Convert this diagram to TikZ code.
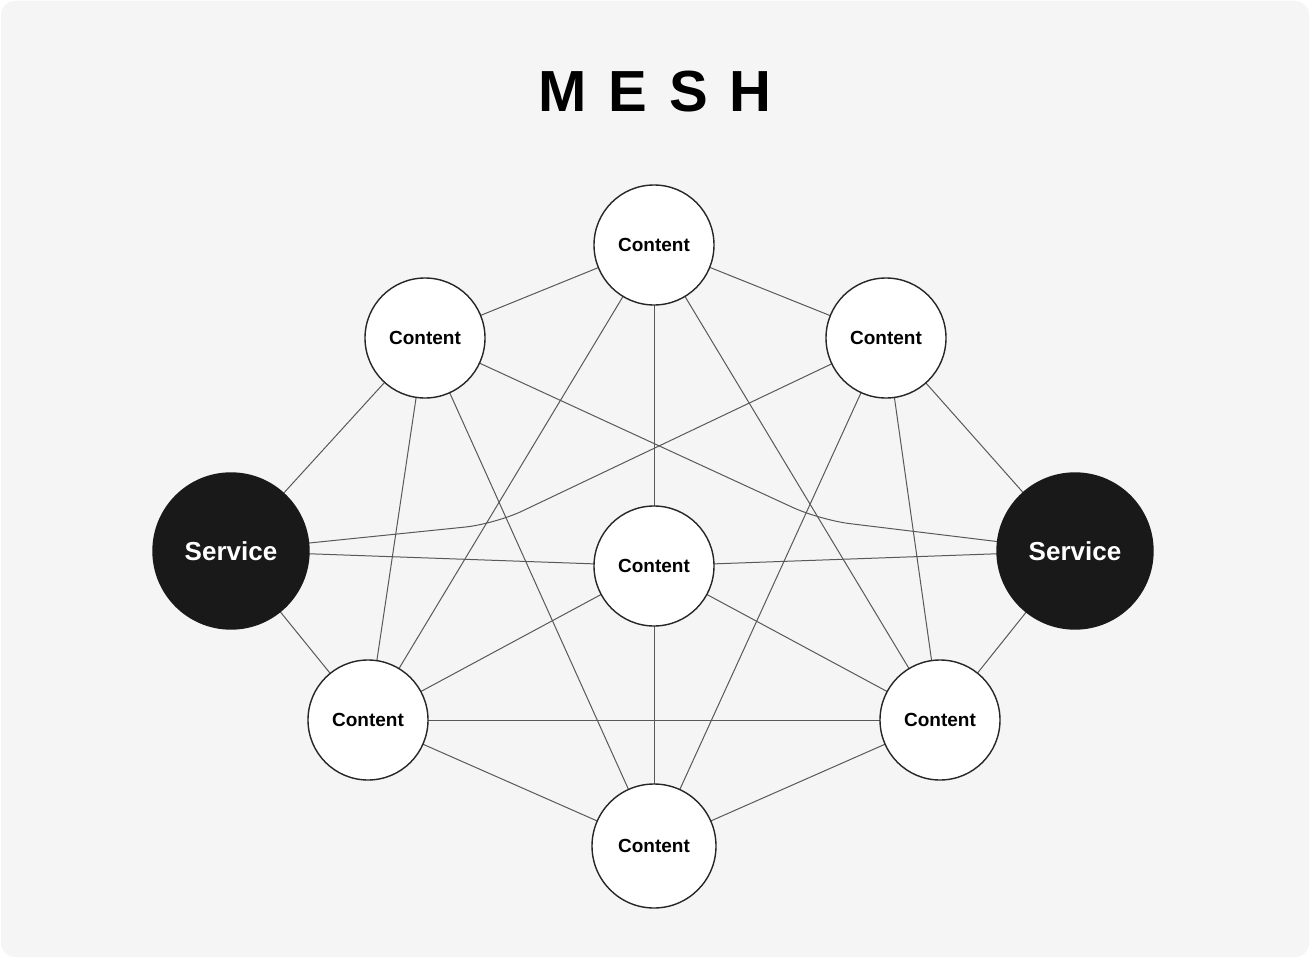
\documentclass[tikz,border=0pt]{standalone}
\usepackage{fontspec}
\setmainfont{Liberation Sans}
\begin{document}
\begin{tikzpicture}[x=1pt,y=-1pt,
  cn/.style={circle,draw=black!85,line width=1.4pt,fill=white,inner sep=0pt,minimum size=120pt,font=\fontsize{19}{22}\selectfont\bfseries},
  sv/.style={circle,draw=black!90,line width=1.4pt,fill=black!90,text=white,inner sep=0pt,minimum size=156pt,font=\fontsize{26}{30}\selectfont\bfseries},
  ed/.style={draw=black!65,line width=1pt}]
\useasboundingbox (0,0) rectangle (1310,958);
\fill[white] (0,0) rectangle (1310,958);
\fill[black!4,rounded corners=14pt] (1,1) rectangle (1309,957);
\node (title) at (655,92) {\fontsize{58}{60}\selectfont\bfseries M\hspace{0.38em}E\hspace{0.38em}S\hspace{0.38em}H};
\coordinate (k1) at (820,520);
\coordinate (k2) at (495,524);
\coordinate (pT) at (654,245);
\coordinate (pTL) at (425,338);
\coordinate (pTR) at (886,338);
\coordinate (pSL) at (231,551);
\coordinate (pSR) at (1075,551);
\coordinate (pC) at (654,566);
\coordinate (pBL) at (368,720);
\coordinate (pBR) at (940,720);
\coordinate (pB) at (654,846);
\foreach \a/\b in {pTL/pT,pT/pTR,pTL/pSL,pTR/pSR,pTL/pBL,pTL/pB,pT/pBL,pT/pC,pT/pBR,pTR/pB,pTR/pBR,pSL/pC,pSR/pC,pSL/pBL,pSR/pBR,pC/pBL,pC/pBR,pC/pB,pBL/pBR,pBL/pB,pBR/pB}
  \draw[ed] (\a) -- (\b);
\draw[ed,rounded corners=30pt] (pTL) -- (k1) -- (pSR);
\draw[ed,rounded corners=30pt] (pTR) -- (k2) -- (pSL);
\node[cn] (T) at (pT) {Content};
\node[cn] (TL) at (pTL) {Content};
\node[cn] (TR) at (pTR) {Content};
\node[sv] (SL) at (pSL) {Service};
\node[sv] (SR) at (pSR) {Service};
\node[cn] (C) at (pC) {Content};
\node[cn] (BL) at (pBL) {Content};
\node[cn] (BR) at (pBR) {Content};
\node[cn,minimum size=124pt] (B) at (pB) {Content};
\end{tikzpicture}
\end{document}
